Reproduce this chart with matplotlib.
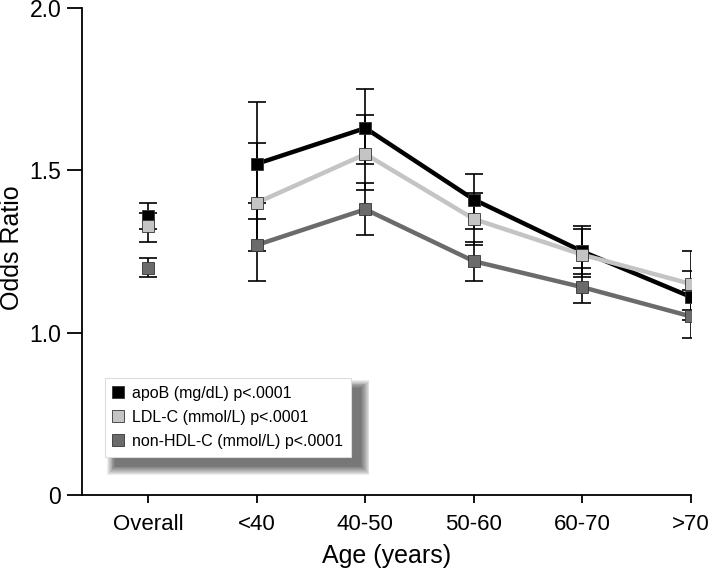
import numpy as np
import matplotlib
matplotlib.use('Agg')
import matplotlib.pyplot as plt
from matplotlib.lines import Line2D
from matplotlib.patches import Rectangle

plt.rcParams['font.family'] = ['Liberation Sans', 'DejaVu Sans']

groups = ['Overall', '<40', '40-50', '50-60', '60-70', '>70']

# odds ratios and confidence limits, first value is the overall estimate
apob = [1.36, 1.52, 1.63, 1.41, 1.25, 1.11]
apob_lo = [1.32, 1.35, 1.52, 1.32, 1.18, 1.04]
apob_hi = [1.40, 1.71, 1.75, 1.49, 1.33, 1.19]

ldl = [1.33, 1.40, 1.55, 1.35, 1.24, 1.15]
ldl_lo = [1.28, 1.25, 1.44, 1.27, 1.17, 1.07]
ldl_hi = [1.37, 1.585, 1.67, 1.43, 1.32, 1.25]

nonhdl = [1.20, 1.27, 1.38, 1.22, 1.14, 1.05]
nonhdl_lo = [1.17, 1.16, 1.30, 1.16, 1.09, 0.985]
nonhdl_hi = [1.23, 1.40, 1.46, 1.28, 1.20, 1.13]

labels = ['apoB (mg/dL) p<.0001', 'LDL-C (mmol/L) p<.0001', 'non-HDL-C (mmol/L) p<.0001']
colors = ['#000000', '#c4c4c4', '#6b6b6b']

ytick_vals = [0.5, 1.0, 1.5, 2.0]
ytick_labels = ['0', '1.0', '1.5', '2.0']

fig = plt.figure(figsize=(7.09, 5.69), dpi=100)
ax = fig.add_axes([0.1157, 0.130, 0.8589, 0.856])

x = np.arange(len(groups))
series = [(apob, apob_lo, apob_hi), (ldl, ldl_lo, ldl_hi), (nonhdl, nonhdl_lo, nonhdl_hi)]

for (vals, lo, hi), col in zip(series, colors):
    vals = np.array(vals)
    err = [vals - np.array(lo), np.array(hi) - vals]
    ax.errorbar(x, vals, yerr=err, fmt='none', ecolor='black', elinewidth=1.2,
                capsize=6.5, capthick=1.2, zorder=1)

for (vals, lo, hi), col in zip(series, colors):
    # age groups joined by a line, overall point on its own
    ax.plot(x[1:], vals[1:], '-', color=col, lw=3.2, zorder=2)
    ax.plot(x, vals, 's', color=col, markersize=8, markeredgecolor='#333333',
            markeredgewidth=0.6, linestyle='none', zorder=3)

ax.set_xlim(-0.61, 5.0)
ax.set_ylim(0.5, 2.0)
ax.set_yticks(ytick_vals)
ax.set_yticklabels(ytick_labels)
ax.set_xticks(x)
ax.set_xticklabels(groups)

for s in ['top', 'right']:
    ax.spines[s].set_visible(False)
for s in ['left', 'bottom']:
    ax.spines[s].set_linewidth(1.3)
ax.tick_params(axis='y', length=11, width=1.3, labelsize=16.5, pad=4)
ax.tick_params(axis='x', length=6, width=1.3, labelsize=16, pad=8)

ax.set_xlabel('Age (years)', fontsize=18, labelpad=6)
ax.set_ylabel('Odds Ratio', fontsize=18)
ax.yaxis.set_label_coords(-0.096, 0.507)

handles = [Line2D([], [], marker='s', color=c, markeredgecolor='#333333', markeredgewidth=0.6,
                  markersize=8, linestyle='none') for c in colors]
leg = ax.legend(handles, labels, loc='lower left', bbox_to_anchor=(0.038, 0.079),
                fontsize=11.5, frameon=True, fancybox=False, framealpha=1.0, handlelength=0.6,
                handletextpad=0.6, borderpad=0.5, labelspacing=0.55, borderaxespad=0)
leg.get_frame().set_edgecolor('#dddddd')
leg.get_frame().set_linewidth(0.8)
leg.set_zorder(10)

# soft drop shadow behind the legend
fig.canvas.draw()
bb = leg.get_window_extent().transformed(fig.transFigure.inverted())
W, H = fig.get_size_inches() * fig.dpi
for k in range(10):
    grow = k * 0.9
    sh = Rectangle((bb.x0 + (10 - grow) / W, bb.y0 - (10 + grow) / H),
                   bb.width + 2 * grow / W, bb.height + 2 * grow / H,
                   transform=fig.transFigure, facecolor='black', edgecolor='none',
                   alpha=0.07, zorder=9, clip_on=False)
    ax.add_patch(sh)

fig.savefig('out.png', dpi=100)
